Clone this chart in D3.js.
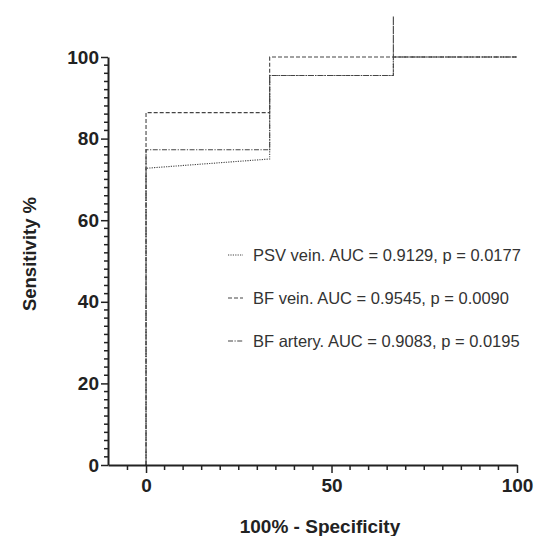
<!DOCTYPE html>
<html><head><meta charset="utf-8">
<script src="https://cdn.jsdelivr.net/npm/d3@7"></script>
<style>body{margin:0;background:#fff}svg{display:block}</style>
</head><body>
<svg id="c" width="535" height="536"></svg>
<script>
const seriesNames = ["PSV vein. AUC = 0.9129, p = 0.0177","BF vein. AUC = 0.9545, p = 0.0090","BF artery. AUC = 0.9083, p = 0.0195"];
const psvX = [0, 0, 33.33, 33.33, 66.67, 66.67, 100];
const psvY = [0, 72.73, 75, 95.45, 95.45, 100, 100];
const bfVeinX = [0, 0, 33.33, 33.33, 100];
const bfVeinY = [0, 86.36, 86.36, 100, 100];
const bfArteryX = [0, 0, 33.33, 33.33, 66.67, 66.67, 66.67, 100];
const bfArteryY = [0, 77.27, 77.27, 95.45, 95.45, 110, 100, 100];
const xTicks = [0, 50, 100];
const yTicks = [0, 20, 40, 60, 80, 100];
const dashes = ["1.2,1.2", "4,2", "5,1.5,1.2,1.5"];

const svg = d3.select("#c");
const x = d3.scaleLinear().domain([-10.25, 100]).range([108, 517]);
const y = d3.scaleLinear().domain([0, 100]).range([465, 57]);
const ink = "#222";
const font = "Liberation Sans, Arial, sans-serif";

// lines
const series = [[psvX, psvY], [bfVeinX, bfVeinY], [bfArteryX, bfArteryY]];
const line = d3.line().x(d => x(d[0])).y(d => y(d[1]));
series.forEach((s, i) => {
  const pts = s[0].map((v, j) => [v, s[1][j]]);
  svg.append("path").attr("d", line(pts)).attr("fill", "none")
    .attr("stroke", "#444").attr("stroke-width", 1.1)
    .attr("stroke-dasharray", dashes[i]);
});

// y axis
const yAxis = d3.axisLeft(y).tickValues(yTicks).tickSize(7).tickPadding(2).tickSizeOuter(0);
const gy = svg.append("g").attr("transform", "translate(108,0)").call(yAxis);
gy.append("g").selectAll("line").data(d3.range(0, 101, 2).filter(v => v % 20 !== 0))
  .join("line").attr("x1", -4).attr("x2", 0).attr("y1", d => y(d)).attr("y2", d => y(d))
  .attr("stroke", ink).attr("stroke-width", 1.5);
gy.select(".domain").attr("stroke", ink).attr("stroke-width", 2);
gy.selectAll(".tick line").attr("stroke", ink).attr("stroke-width", 1.5);
gy.selectAll(".tick text").attr("font-family", font)
  .attr("font-size", 19).attr("font-weight", "bold").attr("fill", ink);

// x axis
const xAxis = d3.axisBottom(x).tickValues(xTicks).tickSize(8).tickPadding(6).tickSizeOuter(0);
const gx = svg.append("g").attr("transform", "translate(0,465)").call(xAxis);
gx.append("g").selectAll("line").data(d3.range(-5, 100, 5).filter(v => v % 50 !== 0))
  .join("line").attr("x1", d => x(d)).attr("x2", d => x(d)).attr("y1", 0).attr("y2", 5)
  .attr("stroke", ink).attr("stroke-width", 1.5);
gx.select(".domain").attr("stroke", ink).attr("stroke-width", 2);
gx.selectAll(".tick line").attr("stroke", ink).attr("stroke-width", 1.5);
gx.selectAll(".tick text").attr("font-family", font)
  .attr("font-size", 19).attr("font-weight", "bold").attr("fill", ink);

// axis titles
svg.append("text").attr("x", 320).attr("y", 533).attr("text-anchor", "middle")
  .attr("font-family", font).attr("font-size", 19)
  .attr("font-weight", "bold").attr("fill", ink).text("100% - Specificity");
svg.append("text").attr("transform", "translate(36,254) rotate(-90)").attr("text-anchor", "middle")
  .attr("font-family", font).attr("font-size", 18.5)
  .attr("font-weight", "bold").attr("fill", ink).text("Sensitivity %");

// legend
const ly = [255, 298, 341];
seriesNames.forEach((n, i) => {
  svg.append("line").attr("x1", 228).attr("x2", 243).attr("y1", ly[i]).attr("y2", ly[i])
    .attr("stroke", "#444").attr("stroke-width", 1.1).attr("stroke-dasharray", dashes[i]);
  svg.append("text").attr("x", 253).attr("y", ly[i] + 6)
    .attr("font-family", font).attr("font-size", 16.5)
    .attr("fill", "#333").text(n);
});
</script>
</body></html>
